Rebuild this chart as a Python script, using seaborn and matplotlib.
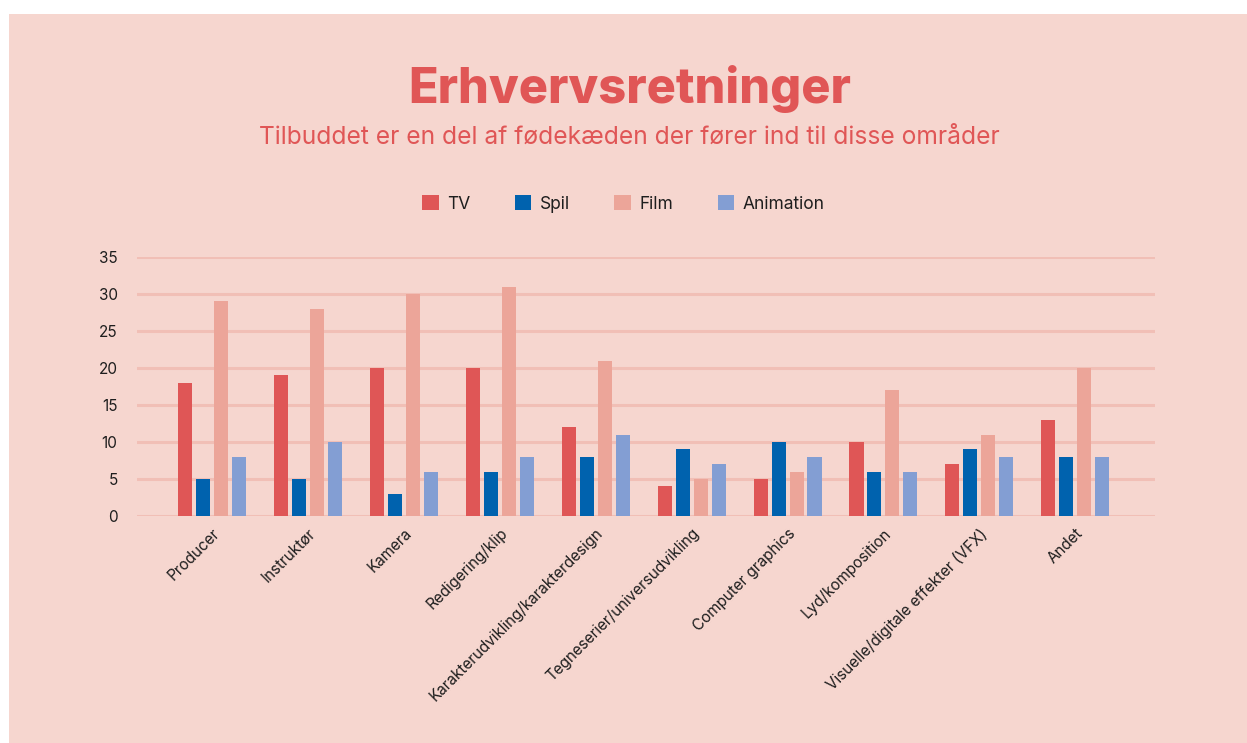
import matplotlib
matplotlib.use("Agg")
import matplotlib.pyplot as plt
import matplotlib.patches as mpatches
import seaborn as sns
import pandas as pd

categories = ["Producer", "Instruktør", "Kamera", "Redigering/klip",
              "Karakterudvikling/karakterdesign", "Tegneserier/universudvikling",
              "Computer graphics", "Lyd/komposition",
              "Visuelle/digitale effekter (VFX)", "Andet"]
series = ["TV", "Spil", "Film", "Animation"]
tv = [18, 19, 20, 20, 12, 4, 5, 10, 7, 13]
spil = [5, 5, 3, 6, 8, 9, 10, 6, 9, 8]
film = [29, 28, 30, 31, 21, 5, 6, 17, 11, 20]
animation = [8, 10, 6, 8, 11, 7, 8, 6, 8, 8]
yticks = [0, 5, 10, 15, 20, 25, 30, 35]

colors = ["#DF5656", "#0062AE", "#ECA599", "#839ED3"]
bg = "#F6D6CF"
grid_c = "#F1BFB6"
text_c = "#1E1E1E"
red = "#E05656"

sns.set_theme(style="white")
plt.rcParams["font.family"] = ["Inter", "DejaVu Sans"]

rows = []
for name, vals in zip(series, [tv, spil, film, animation]):
    for c, v in zip(categories, vals):
        rows.append({"Kategori": c, "Serie": name, "Antal": v})
df = pd.DataFrame(rows)

fig = plt.figure(figsize=(12.47, 7.43), dpi=100)
fig.patch.set_facecolor("white")
fig.patches.append(mpatches.Rectangle((9 / 1247, 0), 1, 1 - 14 / 743,
                                      transform=fig.transFigure,
                                      facecolor=bg, edgecolor="none", zorder=-10))

ax = fig.add_axes([137 / 1247, 1 - 516 / 743, 1018 / 1247, (516 - 257) / 743])
ax.set_facecolor("none")
sns.barplot(data=df, x="Kategori", y="Antal", hue="Serie", order=categories,
            hue_order=series, palette=colors, width=0.75, gap=0.22,
            saturation=1, ax=ax, legend=False, zorder=3, linewidth=0,
            edgecolor="none")

ax.set_ylim(0, 35)
ax.set_xlim(-0.78, 9.83)
ax.set_yticks(yticks)
ax.yaxis.grid(True, color=grid_c, linewidth=2.2, zorder=0)
ax.set_axisbelow(True)
for s in ax.spines.values():
    s.set_visible(False)
ax.set_xlabel("")
ax.set_ylabel("")
ax.tick_params(axis="y", length=0, pad=14, labelsize=11, labelcolor=text_c)
ax.tick_params(axis="x", length=0, pad=7, labelsize=11, labelcolor=text_c)
ax.set_xticks(range(len(categories)))
ax.set_xticklabels(categories, rotation=45, ha="right", rotation_mode="anchor")
for lab in ax.get_yticklabels():
    lab.set_horizontalalignment("right")

fig.text(0.505, 1 - 89 / 743, "Erhvervsretninger", ha="center", va="center",
         fontsize=35, fontweight="heavy", color=red)
fig.text(0.505, 1 - 137 / 743,
         "Tilbuddet er en del af fødekæden der fører ind til disse områder",
         ha="center", va="center", fontsize=17.7, color=red)

handles = [mpatches.Patch(facecolor=c, edgecolor="none", label=s)
           for c, s in zip(colors, series)]
leg = fig.legend(handles=handles, loc="center", ncol=4,
                 bbox_to_anchor=(0.50, 1 - 204 / 743), frameon=False,
                 fontsize=12.5, handlelength=0.95, handleheight=0.95,
                 handletextpad=0.5, columnspacing=2.55)
for t in leg.get_texts():
    t.set_color(text_c)

fig.savefig("out.png", dpi=100, facecolor=fig.get_facecolor())
